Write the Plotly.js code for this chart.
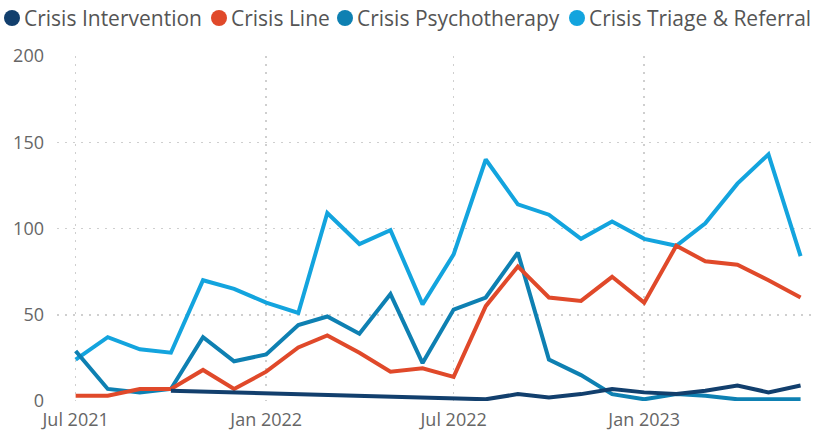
<!DOCTYPE html>
<html>
<head>
<meta charset="utf-8">
<script src="https://cdn.plot.ly/plotly-3.0.1.min.js"></script>
<style>html,body{margin:0;padding:0;background:#fff;}#chart{width:821px;height:432px;}</style>
</head>
<body>
<div id="chart"></div>
<script>
const months = ["2021-07-01","2021-08-01","2021-09-01","2021-10-01","2021-11-01","2021-12-01",
  "2022-01-01","2022-02-01","2022-03-01","2022-04-01","2022-05-01","2022-06-01",
  "2022-07-01","2022-08-01","2022-09-01","2022-10-01","2022-11-01","2022-12-01",
  "2023-01-01","2023-02-01","2023-03-01","2023-04-01","2023-05-01","2023-06-01"];
const seriesNames = ["Crisis Intervention","Crisis Line","Crisis Psychotherapy","Crisis Triage & Referral"];
const crisisIntervention = [null,null,null,6,null,null,null,null,null,null,null,null,2,1,4,2,4,7,5,4,6,9,5,9];
const crisisLine = [3,3,7,7,18,7,17,31,38,28,17,19,14,55,78,60,58,72,57,90,81,79,70,60];
const crisisPsychotherapy = [29,7,5,7,37,23,27,44,49,39,62,22,53,60,86,24,15,4,1,4,3,1,1,1];
const crisisTriage = [24,37,30,28,70,65,57,51,109,91,99,56,85,140,114,108,94,104,94,90,103,126,143,84];
const colors = ["#123F6D","#E0492A","#0E80B2","#13A4DE"];
const yTicks = [0,50,100,150,200];
const xTickVals = ["2021-07-01","2022-01-01","2022-07-01","2023-01-01"];
const xTickText = ["Jul 2021","Jan 2022","Jul 2022","Jan 2023"];

const allSeries = [crisisIntervention, crisisLine, crisisPsychotherapy, crisisTriage];
const drawOrder = [3,2,1,0];
const traces = [];
drawOrder.forEach(i => {
  traces.push({x: months, y: allSeries[i], type: 'scatter', mode: 'lines', connectgaps: true,
    name: seriesNames[i], line: {color: colors[i], width: 4}, showlegend: false, hoverinfo: 'skip'});
});

const font = "'Segoe UI', 'Open Sans', 'Noto Sans', sans-serif";
const W = 821;
// legend built with shapes + annotations (paper coords)
const legendDotX = [12, 219, 345, 577];
const legendY = 18;
const shapes = [];
const annotations = [];
seriesNames.forEach((n, i) => {
  const cx = legendDotX[i];
  shapes.push({type: 'circle', xref: 'paper', yref: 'paper', layer: 'above',
    x0: (cx - 57 - 8) / 756, x1: (cx - 57 + 8) / 756,
    y0: 1 + (56 - legendY - 8) / 345, y1: 1 + (56 - legendY + 8) / 345,
    fillcolor: colors[i], line: {width: 0}});
  annotations.push({xref: 'paper', yref: 'paper', x: (cx + 10 - 57) / 756, y: 1 + (56 - legendY) / 345,
    xanchor: 'left', yanchor: 'middle', text: n, showarrow: false,
    font: {size: 21, color: '#555555', family: font}});
});

const layout = {
  width: 821, height: 432,
  margin: {l: 57, r: 8, t: 56, b: 31, autoexpand: false},
  paper_bgcolor: '#fff', plot_bgcolor: '#fff',
  font: {family: font, color: '#666666'},
  showlegend: false,
  shapes: shapes,
  annotations: annotations,
  xaxis: {type: 'date', range: ['2021-06-13','2023-06-13'], tickvals: xTickVals, ticktext: xTickText,
    showgrid: true, gridcolor: '#CFCFCF', griddash: '2px,6px', gridwidth: 1.5, zeroline: false,
    showline: false, ticks: '', ticklabelstandoff: 6, tickfont: {size: 18, color: '#666666'}, fixedrange: true},
  yaxis: {range: [0, 200], tickvals: yTicks, showgrid: true, gridcolor: '#CFCFCF', griddash: '2px,6px',
    gridwidth: 1.5, zeroline: false, showline: false, ticks: '', ticklabelstandoff: 12,
    tickfont: {size: 18, color: '#666666'}, fixedrange: true}
};
Plotly.newPlot('chart', traces, layout, {displayModeBar: false, staticPlot: true});
</script>
</body>
</html>
